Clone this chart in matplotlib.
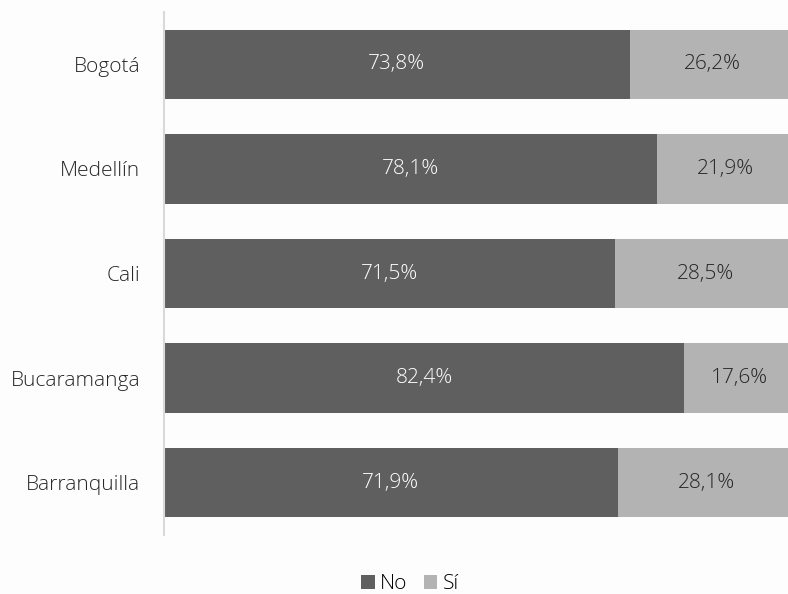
import matplotlib.pyplot as plt

plt.rcParams['font.family'] = ['Open Sans', 'DejaVu Sans']
plt.rcParams['font.weight'] = 'light'

ciudades = ['Bogotá', 'Medellín', 'Cali', 'Bucaramanga', 'Barranquilla']
no_vals = [73.8, 78.1, 71.5, 82.4, 71.9]
si_vals = [26.2, 21.9, 28.5, 17.6, 28.1]

c_no = '#5f5f5f'
c_si = '#b3b3b3'
fs = 15

fig = plt.figure(figsize=(7.88, 5.94), dpi=100)
fig.patch.set_facecolor('#fdfdfd')
ax = fig.add_axes([164 / 788, 59 / 594, 631 / 788, 523 / 594])
ax.set_facecolor('none')

y = list(range(len(ciudades)))
b1 = ax.barh(y, no_vals, height=0.665, color=c_no, label='No')
b2 = ax.barh(y, si_vals, left=no_vals, height=0.665, color=c_si, label='Sí')

for i in y:
    ax.text(no_vals[i] / 2, i, ('%.1f%%' % no_vals[i]).replace('.', ','),
            ha='center', va='center', color='white', fontsize=fs)
    ax.text(no_vals[i] + si_vals[i] / 2, i, ('%.1f%%' % si_vals[i]).replace('.', ','),
            ha='center', va='center', color='#262626', fontsize=fs)

ax.set_xlim(0, 100)
ax.set_ylim(4.5, -0.5)
ax.set_yticks(y)
ax.set_yticklabels(ciudades, fontsize=fs, color='#262626')
ax.tick_params(axis='y', length=0, pad=17)
ax.set_xticks([])
for s in ['top', 'right', 'bottom']:
    ax.spines[s].set_visible(False)
ax.spines['left'].set_color('#d9d9d9')
ax.spines['left'].set_linewidth(1.5)

fig.legend(handles=[b1, b2], loc='center', bbox_to_anchor=(410 / 788, 10 / 594),
           ncol=2, frameon=False, fontsize=fs, handlelength=0.65, handleheight=0.65,
           handletextpad=0.25, columnspacing=0.8)

fig.savefig('out.png', dpi=100, facecolor=fig.get_facecolor())
